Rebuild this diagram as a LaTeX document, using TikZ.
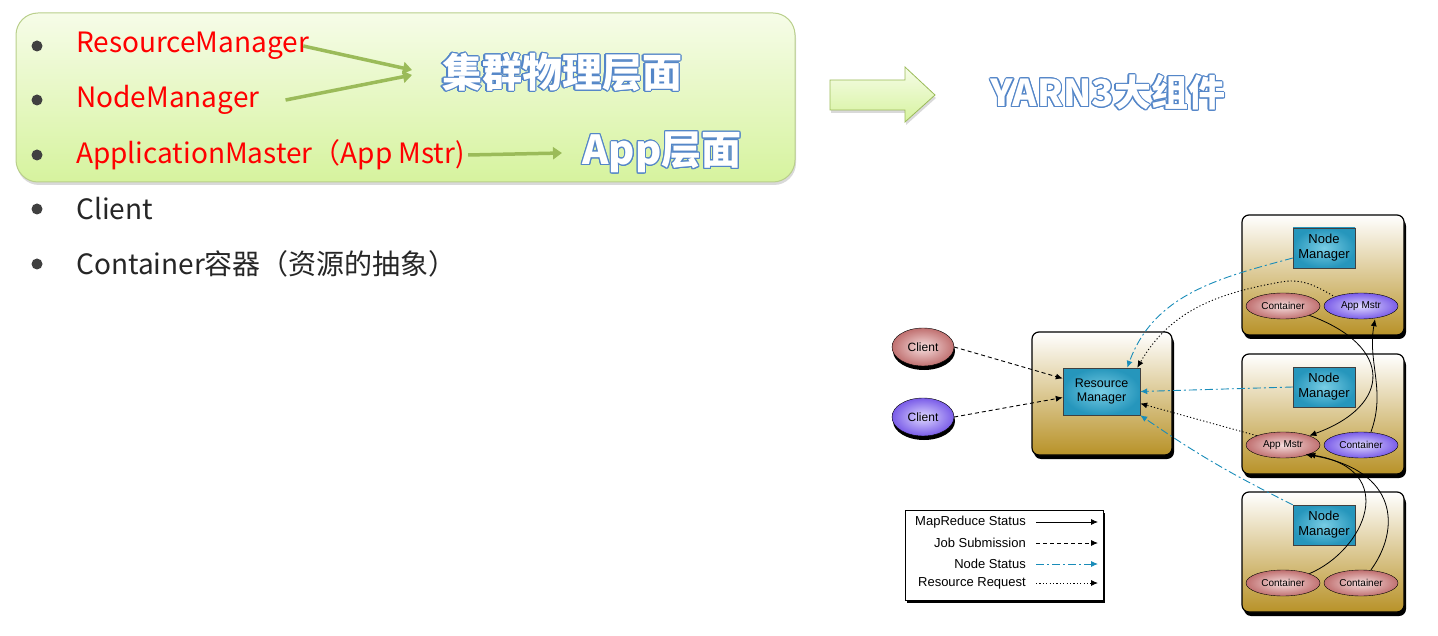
\documentclass[tikz,border=0pt]{standalone}
\usepackage{fontspec}
\setmainfont{Noto Sans CJK SC}
\newfontfamily\diagfont{Liberation Sans}
\usepackage{contour}
\contourlength{1.1pt}
\usetikzlibrary{positioning, arrows.meta, calc, shadows, shapes.geometric}
\definecolor{boxgreen}{RGB}{155,187,89}
\definecolor{greentop}{RGB}{246,252,232}
\definecolor{greenbot}{RGB}{214,243,158}
\definecolor{glowblue}{RGB}{84,134,200}
\definecolor{gold}{RGB}{184,146,40}
\definecolor{nmcyan}{RGB}{38,150,188}
\definecolor{nmlight}{RGB}{120,205,228}
\definecolor{statuscol}{RGB}{25,140,185}
\definecolor{redell}{RGB}{192,112,112}
\definecolor{redlight}{RGB}{246,222,222}
\definecolor{purpell}{RGB}{122,92,232}
\definecolor{purplight}{RGB}{222,216,255}
\definecolor{textgray}{RGB}{38,38,38}
\definecolor{bulletgray}{RGB}{64,64,64}

\begin{document}
\begin{tikzpicture}[
			x=1pt, y=1pt,
			bullet/.style={
				circle,
				fill=bulletgray,
				minimum size=11pt,
				inner sep=0pt
			},
			item/.style={
				anchor=west,
				inner sep=0pt,
				font=\fontsize{28}{32}\selectfont
			},
			wordart/.style={
				inner sep=0pt,
				text=white
			},
			greenarrow/.style={
				draw=boxgreen,
				line width=3.5pt,
				-{Triangle[length=9pt,width=12pt]}
			},
			hostbox/.style={
				draw=black,
				line width=1.2pt,
				rounded corners=7pt,
				top color=white,
				bottom color=gold,
				drop shadow={opacity=1, shadow xshift=2pt, shadow yshift=-4pt, fill=black}
			},
			mgr/.style={
				draw=black!75,
				inner color=nmlight,
				outer color=nmcyan,
				align=center,
				font=\diagfont\fontsize{13}{15}\selectfont,
				minimum width=62pt,
				minimum height=40pt,
				inner sep=1pt
			},
			ell/.style={
				ellipse,
				draw=black,
				minimum width=74pt,
				minimum height=26pt,
				inner sep=0pt,
				font=\diagfont\fontsize{10}{11}\selectfont
			},
			redell/.style={ell, inner color=redlight, outer color=redell},
			purpell/.style={ell, inner color=purplight, outer color=purpell},
			client/.style={
				minimum width=62pt,
				minimum height=38pt,
				font=\diagfont\fontsize{12}{14}\selectfont,
				drop shadow={opacity=1, shadow xshift=1pt, shadow yshift=-4pt, fill=black}
			},
			tip/.style={-{Latex[length=7pt,width=6pt]}},
			mrstat/.style={tip, draw=black, line width=0.8pt},
			jobsub/.style={tip, draw=black, line width=0.9pt, dash pattern=on 4pt off 3pt},
			nodestat/.style={-{Latex[length=7pt,width=6pt]}, draw=statuscol, line width=0.9pt,
				dash pattern=on 8pt off 3pt on 2pt off 3pt},
			resreq/.style={tip, draw=black, line width=0.9pt, dash pattern=on 1.2pt off 2.2pt},
			legtext/.style={anchor=east, inner sep=0pt, font=\diagfont\fontsize{13}{15}\selectfont}
			]
			\useasboundingbox (0,0) rectangle (1438,-636);
			% Left panel
			\draw[draw=boxgreen!70, line width=1pt, rounded corners=22pt,
				top color=greentop, bottom color=greenbot,
				drop shadow={opacity=0.3, shadow xshift=1pt, shadow yshift=-3pt}]
				(16,-13) rectangle (795,-182);
			\foreach \y [count=\i] in {46,100,155,209,264}
				\node[bullet] (b\i) at (37,-\y) {};
			\node[item, red] (t1) at (76,-46) {ResourceManager};
			\node[item, red] (t2) at (76,-100) {NodeManager};
			\node[item, red] (t3) at (76,-155) {ApplicationMaster（App Mstr)};
			\node[item, textgray] (t4) at (76,-209) {Client};
			\node[item, textgray] (t5) at (76,-264) {Container容器（资源的抽象）};
			\node[wordart, font=\fontsize{40}{46}\selectfont\bfseries] (phys) at (562,-73)
				{\contour{glowblue}{集群物理层面}};
			\node[wordart, font=\fontsize{40}{46}\selectfont\bfseries] (applev) at (662,-153)
				{\contour{glowblue}{App层面}};
			\coordinate (p1) at (412,-70);
			\coordinate (p2) at (412,-75);
			\coordinate (p3) at (562,-153);
			\draw[greenarrow] ([xshift=-6pt]t1.east) -- (p1);
			\draw[greenarrow] ([xshift=26pt]t2.east) -- (p2);
			\draw[greenarrow] ([xshift=3pt]t3.east) -- (p3);
			% Block arrow and title
			\draw[draw=boxgreen, line width=0.8pt, top color=greentop, bottom color=greenbot,
				drop shadow={opacity=0.3, shadow xshift=1pt, shadow yshift=-3pt}]
				(830,-80) -- (905,-80) -- (905,-67) -- (935,-95) -- (905,-122) -- (905,-110) -- (830,-110) -- cycle;
			\node[wordart, font=\fontsize{37}{42}\selectfont\bfseries] (yarn) at (1108,-93)
				{\contour{glowblue}{YARN3大组件}};
			% Hosts
			\node[hostbox, minimum width=140pt, minimum height=123pt] (rmhost) at (1102,-393.5) {};
			\node[hostbox, minimum width=162pt, minimum height=120pt] (n1) at (1323,-275) {};
			\node[hostbox, minimum width=162pt, minimum height=120pt] (n2) at (1323,-414) {};
			\node[hostbox, minimum width=162pt, minimum height=120pt] (n3) at (1323,-552) {};
			\node[mgr, minimum width=77pt, minimum height=47pt, font=\diagfont\fontsize{12.5}{14.5}\selectfont] (rm) at (1101.5,-391.5) {Resource\\Manager};
			\node[mgr] (nm1) at (1324,-248) {Node\\Manager};
			\node[mgr] (nm2) at (1324,-387) {Node\\Manager};
			\node[mgr] (nm3) at (1324,-525) {Node\\Manager};
			% Containers and masters
			\node[redell] (c1a) at (1283,-306) {Container};
			\node[purpell] (am1) at (1361,-306) {App Mstr};
			\node[redell] (am2) at (1283,-445) {App Mstr};
			\node[purpell] (c2b) at (1361,-445) {Container};
			\node[redell] (c3a) at (1283,-583) {Container};
			\node[redell] (c3b) at (1361,-583) {Container};
			% Clients
			\node[redell, client] (cl1) at (923,-347) {Client};
			\node[purpell, client] (cl2) at (923,-417) {Client};
			% Transitions
			\draw[jobsub] (cl1.east) -- ([yshift=13pt]rm.west);
			\draw[jobsub] (cl2.east) -- ([yshift=-6pt]rm.west);
			\draw[nodestat] ([yshift=-10pt]nm1.west) to[out=195, in=70] ([xshift=-13pt]rm.north east);
			\draw[resreq] ([xshift=-28pt,yshift=-3pt]am1.north) to[out=150, in=10] (1281,-282)
				to[out=190, in=60] ([xshift=-3pt]rm.north east);
			\draw[nodestat] (nm2.west) -- (rm.east);
			\draw[resreq] (am2.north west) -- ([yshift=-12pt]rm.east);
			\draw[nodestat] (nm3.north west) to[bend left=4] (rm.south east);
			\draw[mrstat] (c1a.south east) to[out=-20, in=20, looseness=1.9] (am2.north east);
			\draw[mrstat] ([xshift=10pt]c2b.north) to[out=70, in=-100] ([xshift=14pt]am1.south);
			\draw[mrstat] (c3a.north east) .. controls (1365,-550) and (1400,-470) .. ([xshift=-1pt]am2.south east);
			\draw[mrstat] ([xshift=10pt]c3b.north) .. controls (1400,-530) and (1400,-470) .. ([xshift=-4pt]am2.south east);
			% Legend
			\node[draw=black, line width=1pt, fill=white, minimum width=198pt, minimum height=90pt,
				drop shadow={opacity=1, shadow xshift=2pt, shadow yshift=-3pt, fill=black}] (legend) at (1004,-555) {};
			\foreach \y/\lbl/\sty [count=\i] in {522/MapReduce Status/mrstat, 543/Job Submission/jobsub,
					564/Node Status/nodestat, 583/Resource Request/resreq} {
				\node[legtext] (lt\i) at (1026,-\y) {\lbl};
				\coordinate (ls\i) at (1036,-\y);
				\coordinate (le\i) at (1098,-\y);
				\draw[\sty] (ls\i) -- (le\i);
			}
		\end{tikzpicture}
\end{document}
